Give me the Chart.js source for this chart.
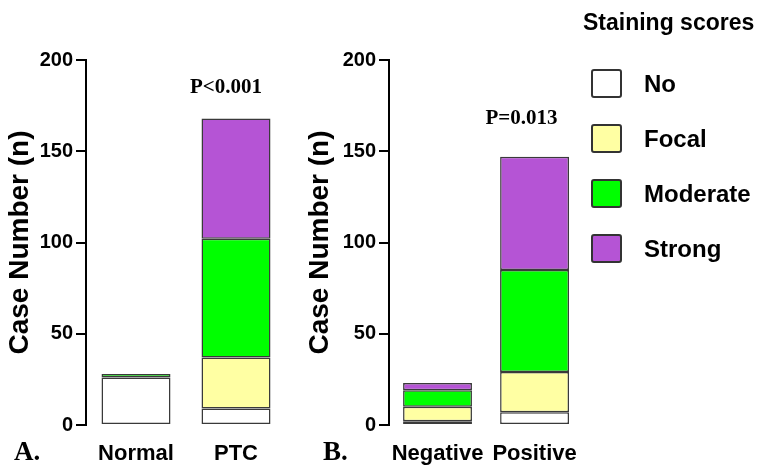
<!DOCTYPE html>
<html>
<head>
<meta charset="utf-8">
<script src="https://cdn.jsdelivr.net/npm/chart.js@4.4.1/dist/chart.umd.min.js"></script>
<style>
  body { margin: 0; background: #fff; }
  #wrap { position: relative; width: 758px; height: 473px; overflow: hidden; }
  canvas { position: absolute; top: 0; }
  .panel { position: absolute; top: 436px; font: bold 27px 'Liberation Serif', serif; }
  #legend-title { position: absolute; left: 583px; top: 9px; font: bold 23px 'Liberation Sans', sans-serif; }
  .item { position: absolute; left: 591px; height: 29px; display: flex; align-items: center; }
  .box { width: 27px; height: 25px; border: 2px solid #333; border-radius: 3px; }
  .item span { margin-left: 22px; font: bold 24px 'Liberation Sans', sans-serif; }
</style>
</head>
<body>
<div id="wrap">
  <canvas id="chart-a" width="300" height="473" style="left:0"></canvas>
  <canvas id="chart-b" width="294" height="473" style="left:300px"></canvas>
  <div class="panel" style="left:14px">A.</div>
  <div class="panel" style="left:323px">B.</div>
  <div id="legend-title">Staining scores</div>
  <div id="legend"></div>
</div>
<script>
// data
const categoriesA = ['Normal', 'PTC'];
const categoriesB = ['Negative', 'Positive'];
const scoreNames = ['No', 'Focal', 'Moderate', 'Strong'];
const scoreColors = ['#ffffff', '#ffffa3', '#00ff00', '#b554d5'];

const noA = [26, 9];
const focalA = [0, 28];
const moderateA = [2, 65];
const strongA = [0, 66];

const noB = [2, 7];
const focalB = [8, 22];
const moderateB = [9, 56];
const strongB = [4, 62];

const yTicks = [0, 50, 100, 150, 200];
const pTextA = 'P<0.001';
const pTextB = 'P=0.013';
const pLevelA = 185;
const pLevelB = 168;

// legend
const legend = document.getElementById('legend');
const legendTops = [69, 124, 179, 234];
for (let i = 0; i < scoreNames.length; i++) {
    const item = document.createElement('div');
    item.className = 'item';
    item.style.top = legendTops[i] + 'px';
    item.innerHTML = '<div class="box" style="background:' + scoreColors[i] + '"></div><span>' + scoreNames[i] + '</span>';
    legend.appendChild(item);
}

function pLabel(text, level, index, shift) {
    return {
        id: 'pLabel',
        afterDraw(chart) {
            const ctx = chart.ctx;
            const x = chart.scales.x.getPixelForValue(index) + shift;
            const y = chart.scales.y.getPixelForValue(level);
            ctx.save();
            ctx.font = 'bold 21px "Liberation Serif", serif';
            ctx.fillStyle = '#000';
            ctx.textAlign = 'center';
            ctx.textBaseline = 'middle';
            ctx.fillText(text, x, y);
            ctx.restore();
        }
    };
}

function makeChart(id, labels, series, axisWidth, padRight, barPct, plugin) {
    const datasets = series.map((values, i) => ({
        label: scoreNames[i],
        data: values,
        backgroundColor: scoreColors[i],
        borderColor: '#3a3a3a',
        borderWidth: 1.5,
        borderSkipped: false,
        categoryPercentage: 1,
        barPercentage: barPct
    }));
    return new Chart(document.getElementById(id), {
        type: 'bar',
        data: { labels: labels, datasets: datasets },
        options: {
            responsive: false,
            animation: false,
            devicePixelRatio: 1,
            layout: { padding: { top: 60, right: padRight, bottom: 0, left: 0 } },
            plugins: { legend: { display: false }, tooltip: { enabled: false } },
            scales: {
                x: {
                    stacked: true,
                    grid: { display: false, drawTicks: false },
                    border: { display: false },
                    ticks: {
                        color: '#000',
                        padding: 16,
                        autoSkip: false,
                        maxRotation: 0,
                        minRotation: 0,
                        font: { family: '"Liberation Sans", sans-serif', size: 22, weight: 'bold' }
                    },
                    afterFit(scale) { scale.height = 48; }
                },
                y: {
                    stacked: true,
                    min: 0,
                    max: 200,
                    afterBuildTicks(scale) { scale.ticks = yTicks.map(v => ({ value: v })); },
                    grid: { drawOnChartArea: false, color: '#000', lineWidth: 2, tickLength: 10 },
                    border: { color: '#000', width: 2 },
                    ticks: {
                        color: '#000',
                        padding: 3,
                        font: { family: '"Liberation Sans", sans-serif', size: 20, weight: 'bold' }
                    },
                    title: {
                        display: true,
                        text: 'Case Number (n)',
                        color: '#000',
                        padding: { top: 3, bottom: 0 },
                        font: { family: '"Liberation Sans", sans-serif', size: 28, weight: 'bold' }
                    },
                    afterFit(scale) { scale.width = axisWidth; }
                }
            }
        },
        plugins: [plugin]
    });
}

makeChart('chart-a', categoriesA, [noA, focalA, moderateA, strongA], 86, 14, 0.69, pLabel(pTextA, pLevelA, 1, -10));
makeChart('chart-b', categoriesB, [noB, focalB, moderateB, strongB], 89, 5, 0.71, pLabel(pTextB, pLevelB, 1, -13));
</script>
</body>
</html>
